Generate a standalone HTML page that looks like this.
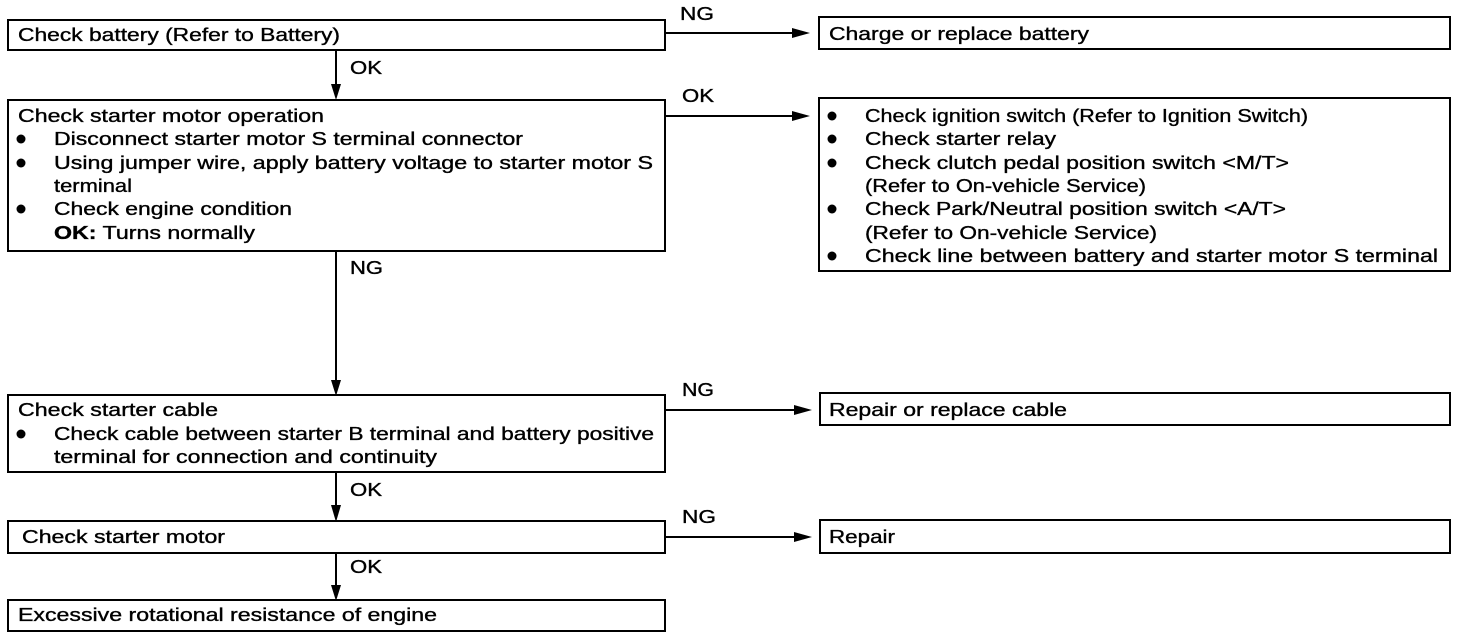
<!DOCTYPE html>
<html><head><meta charset="utf-8">
<style>html,body{margin:0;padding:0;background:#fff}svg{display:block}
text{font-family:"Liberation Sans",sans-serif;font-size:18px;fill:#000;stroke:#000;stroke-width:0.35}</style></head>
<body>
<svg width="1472" height="640" viewBox="0 0 1472 640" xmlns="http://www.w3.org/2000/svg">
<g fill="none" stroke="#000" stroke-width="2">
<rect x="8" y="20" width="657" height="30"/>
<rect x="819" y="17" width="631" height="32"/>
<rect x="8" y="100" width="657" height="151"/>
<rect x="819" y="98" width="631" height="173"/>
<rect x="8" y="395" width="657" height="77"/>
<rect x="820" y="393" width="630" height="32"/>
<rect x="8" y="521" width="657" height="32"/>
<rect x="820" y="520" width="630" height="33"/>
<rect x="8" y="600" width="657" height="31"/>
<line x1="665" y1="33" x2="800" y2="33"/>
<line x1="665" y1="116" x2="800" y2="116"/>
<line x1="665" y1="410" x2="800" y2="410"/>
<line x1="665" y1="537" x2="800" y2="537"/>
<line x1="336" y1="50" x2="336" y2="90"/>
<line x1="336" y1="251" x2="336" y2="388"/>
<line x1="336" y1="472" x2="336" y2="512"/>
<line x1="336" y1="553" x2="336" y2="592"/>
</g>
<g fill="#000">
<polygon points="792,28 810,33 792,38"/>
<polygon points="792,111 810,116 792,121"/>
<polygon points="794,405 812,410 794,415"/>
<polygon points="794,532 812,537 794,542"/>
<polygon points="331,84 341,84 336,100"/>
<polygon points="331,380 341,380 336,396"/>
<polygon points="331,505 341,505 336,522"/>
<polygon points="331,585 341,585 336,601"/>
<circle cx="21" cy="139" r="4.5"/><circle cx="21" cy="163" r="4.5"/><circle cx="21" cy="209" r="4.5"/>
<circle cx="21" cy="434" r="4.5"/>
<circle cx="832" cy="116" r="4.5"/><circle cx="832" cy="139" r="4.5"/><circle cx="832" cy="163" r="4.5"/><circle cx="832" cy="209" r="4.5"/><circle cx="832" cy="256" r="4.5"/>
</g>
<text x="680" y="20" textLength="34" lengthAdjust="spacingAndGlyphs">NG</text>
<text x="682" y="102" textLength="32" lengthAdjust="spacingAndGlyphs">OK</text>
<text x="682" y="396" textLength="32" lengthAdjust="spacingAndGlyphs">NG</text>
<text x="682" y="523" textLength="34" lengthAdjust="spacingAndGlyphs">NG</text>
<text x="350" y="74" textLength="32" lengthAdjust="spacingAndGlyphs">OK</text>
<text x="350" y="274" textLength="33" lengthAdjust="spacingAndGlyphs">NG</text>
<text x="350" y="496" textLength="32" lengthAdjust="spacingAndGlyphs">OK</text>
<text x="350" y="573" textLength="32" lengthAdjust="spacingAndGlyphs">OK</text>

<text x="18" y="41" textLength="322" lengthAdjust="spacingAndGlyphs">Check battery (Refer to Battery)</text>
<text x="829" y="40" textLength="260" lengthAdjust="spacingAndGlyphs">Charge or replace battery</text>

<text x="18" y="122" textLength="306" lengthAdjust="spacingAndGlyphs">Check starter motor operation</text>
<text x="54" y="145" textLength="469" lengthAdjust="spacingAndGlyphs">Disconnect starter motor S terminal connector</text>
<text x="54" y="169" textLength="599" lengthAdjust="spacingAndGlyphs">Using jumper wire, apply battery voltage to starter motor S</text>
<text x="54" y="192" textLength="78" lengthAdjust="spacingAndGlyphs">terminal</text>
<text x="54" y="215" textLength="238" lengthAdjust="spacingAndGlyphs">Check engine condition</text>
<text x="54" y="239" textLength="201" lengthAdjust="spacingAndGlyphs"><tspan font-weight="bold">OK:</tspan> Turns normally</text>

<text x="865" y="122" textLength="443" lengthAdjust="spacingAndGlyphs">Check ignition switch (Refer to Ignition Switch)</text>
<text x="865" y="145" textLength="191" lengthAdjust="spacingAndGlyphs">Check starter relay</text>
<text x="865" y="169" textLength="424" lengthAdjust="spacingAndGlyphs">Check clutch pedal position switch &lt;M/T&gt;</text>
<text x="865" y="192" textLength="281" lengthAdjust="spacingAndGlyphs">(Refer to On-vehicle Service)</text>
<text x="865" y="215" textLength="421" lengthAdjust="spacingAndGlyphs">Check Park/Neutral position switch &lt;A/T&gt;</text>
<text x="865" y="239" textLength="292" lengthAdjust="spacingAndGlyphs">(Refer to On-vehicle Service)</text>
<text x="865" y="262" textLength="573" lengthAdjust="spacingAndGlyphs">Check line between battery and starter motor S terminal</text>

<text x="18" y="416" textLength="200" lengthAdjust="spacingAndGlyphs">Check starter cable</text>
<text x="54" y="440" textLength="600" lengthAdjust="spacingAndGlyphs">Check cable between starter B terminal and battery positive</text>
<text x="54" y="463" textLength="383" lengthAdjust="spacingAndGlyphs">terminal for connection and continuity</text>
<text x="829" y="416" textLength="238" lengthAdjust="spacingAndGlyphs">Repair or replace cable</text>

<text x="22" y="543" textLength="203" lengthAdjust="spacingAndGlyphs">Check starter motor</text>
<text x="829" y="543" textLength="66" lengthAdjust="spacingAndGlyphs">Repair</text>
<text x="18" y="621" textLength="419" lengthAdjust="spacingAndGlyphs">Excessive rotational resistance of engine</text>
</svg>
</body></html>
